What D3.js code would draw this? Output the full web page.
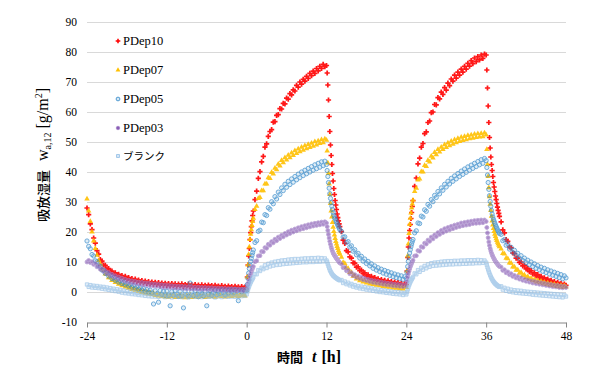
<!DOCTYPE html>
<html>
<head>
<meta charset="utf-8">
<script src="https://cdn.jsdelivr.net/npm/d3@7"></script>
<style>
    html, body { margin: 0; padding: 0; background: #fff; }
    svg { display: block; }
</style>
</head>
<body>
<svg id="chart"></svg>
<script>
'use strict';

// sampling times [h]
const hours = [
    -24, -23.75, -23.5, -23.25, -23, -22.75, -22.5, -22.25,
    -22, -21.75, -21.5, -21.25, -21, -20.75, -20.5, -20.25,
    -20, -19.75, -19.5, -19.25, -19, -18.75, -18.5, -18.25,
    -18, -17.75, -17.5, -17.25, -17, -16.75, -16.5, -16.25,
    -16, -15.75, -15.5, -15.25, -15, -14.75, -14.5, -14.25,
    -14, -13.75, -13.5, -13.25, -13, -12.75, -12.5, -12.25,
    -12, -11.75, -11.5, -11.25, -11, -10.75, -10.5, -10.25,
    -10, -9.75, -9.5, -9.25, -9, -8.75, -8.5, -8.25,
    -8, -7.75, -7.5, -7.25, -7, -6.75, -6.5, -6.25,
    -6, -5.75, -5.5, -5.25, -5, -4.75, -4.5, -4.25,
    -4, -3.75, -3.5, -3.25, -3, -2.75, -2.5, -2.25,
    -2, -1.75, -1.5, -1.25, -1, -0.75, -0.5, -0.25,
    0, 0.1, 0.2, 0.3, 0.4, 0.5, 0.6, 0.7, 0.8, 0.9,
    1, 1.25, 1.5, 1.75, 2, 2.25, 2.5, 2.75,
    3, 3.25, 3.5, 3.75, 4, 4.25, 4.5, 4.75,
    5, 5.25, 5.5, 5.75, 6, 6.25, 6.5, 6.75,
    7, 7.25, 7.5, 7.75, 8, 8.25, 8.5, 8.75,
    9, 9.25, 9.5, 9.75, 10, 10.25, 10.5, 10.75,
    11, 11.25, 11.5, 11.75,
    12, 12.1, 12.2, 12.3, 12.4, 12.5, 12.6, 12.7, 12.8, 12.9,
    13, 13.1, 13.2, 13.3, 13.4, 13.5, 13.6, 13.7, 13.8, 13.9,
    14, 14.25, 14.5, 14.75, 15, 15.25, 15.5, 15.75,
    16, 16.25, 16.5, 16.75, 17, 17.25, 17.5, 17.75,
    18, 18.25, 18.5, 18.75, 19, 19.25, 19.5, 19.75,
    20, 20.25, 20.5, 20.75, 21, 21.25, 21.5, 21.75,
    22, 22.25, 22.5, 22.75, 23, 23.25, 23.5, 23.75,
    24, 24.1, 24.2, 24.3, 24.4, 24.5, 24.6, 24.7, 24.8, 24.9,
    25, 25.25, 25.5, 25.75, 26, 26.25, 26.5, 26.75,
    27, 27.25, 27.5, 27.75, 28, 28.25, 28.5, 28.75,
    29, 29.25, 29.5, 29.75, 30, 30.25, 30.5, 30.75,
    31, 31.25, 31.5, 31.75, 32, 32.25, 32.5, 32.75,
    33, 33.25, 33.5, 33.75, 34, 34.25, 34.5, 34.75,
    35, 35.25, 35.5, 35.75,
    36, 36.1, 36.2, 36.3, 36.4, 36.5, 36.6, 36.7, 36.8, 36.9,
    37, 37.1, 37.2, 37.3, 37.4, 37.5, 37.6, 37.7, 37.8, 37.9,
    38, 38.25, 38.5, 38.75, 39, 39.25, 39.5, 39.75,
    40, 40.25, 40.5, 40.75, 41, 41.25, 41.5, 41.75,
    42, 42.25, 42.5, 42.75, 43, 43.25, 43.5, 43.75,
    44, 44.25, 44.5, 44.75, 45, 45.25, 45.5, 45.75,
    46, 46.25, 46.5, 46.75, 47, 47.25, 47.5, 47.75,
    48
];

// w_a,12 [g/m2], one value per entry of hours
const pdep10 = [
    28, 25.8, 22.7, 20.8, 18, 16.3, 13.8, 12.6,
    10.8, 10.3, 9, 8.9, 7.7, 7.8, 6.8, 7,
    6.1, 6.4, 5.6, 5.9, 5.1, 5.5, 4.7, 5.2,
    4.3, 4.8, 4, 4.5, 3.7, 4.3, 3.5, 4,
    3.3, 3.8, 3.1, 3.6, 2.9, 3.5, 2.8, 3.3,
    2.6, 3.2, 2.5, 3.1, 2.4, 3, 2.3, 2.9,
    2.2, 2.8, 2.1, 2.8, 2.2, 2.7, 2, 2.6,
    2.1, 2.7, 1.9, 2.5, 2, 2.6, 1.8, 2.4,
    1.9, 2.5, 1.7, 2.3, 1.8, 2.4, 1.7, 2.2,
    1.6, 2.3, 1.7, 2.1, 1.5, 2.2, 1.6, 2,
    1.4, 2.1, 1.5, 1.9, 1.3, 2, 1.4, 1.8,
    1.2, 1.9, 1.3, 1.7, 1.2, 1.8, 1.3, 1.6,
    1, 5, 9, 12, 14.5, 17.5, 19.8, 21.8, 23.7, 25.5,
    27, 30.8, 33.6, 37.9, 40.1, 43.4, 45.2, 48.3,
    49.4, 51.9, 53.5, 54.1, 56.6, 56.8, 58.9, 59.1,
    61.1, 61, 62.9, 62.7, 64.6, 64.3, 66.1, 65.7,
    67.4, 67, 68.9, 68.3, 70, 69.3, 70.9, 70.3,
    71.9, 71.2, 72.9, 72.1, 73.6, 72.9, 74.5, 73.7,
    75.2, 74.5, 75.9, 75.1,
    75.5, 73, 69, 64, 58.5, 53.5, 49, 45.5, 42.5, 39.5,
    37, 34.5, 32.5, 30.5, 29, 27.5, 26, 24.8, 23.7, 22.7,
    21.8, 20.1, 17.3, 16.2, 13.8, 13.4, 11.7, 11.3,
    9.7, 9.6, 8.3, 8.4, 7.1, 7.3, 6.1, 6.4,
    5.3, 5.7, 4.7, 5.2, 4.3, 4.8, 3.9, 4.4,
    3.6, 4.1, 3.3, 3.9, 3.1, 3.7, 2.9, 3.5,
    2.7, 3.3, 2.5, 3.1, 2.3, 2.9, 2.1, 2.7,
    2.5, 7, 11.5, 15, 18, 20.5, 22.5, 24.5, 26.5, 28.5,
    30.5, 35.2, 38, 42.7, 44.6, 48.3, 49.5, 52.8,
    53.4, 56.5, 57, 59.8, 60, 62.5, 62.4, 64.8,
    64.4, 66.6, 65.9, 68.1, 67.3, 69.6, 68.8, 71,
    70.3, 72.3, 71.3, 73.3, 72.3, 74.3, 73.3, 75.2,
    74.3, 76.2, 75.3, 77.1, 76.1, 78, 76.8, 78.5,
    77.4, 79, 77.9, 79.3,
    79, 74, 68, 62, 56.5, 51.5, 48, 45, 42.5, 40.5,
    38.5, 36.5, 35, 33.5, 32, 30.8, 29.5, 28.3, 27.2, 26.2,
    25.2, 23.4, 20.7, 19.7, 17.5, 16.9, 15, 14.7,
    13, 12.8, 11.3, 11.3, 9.9, 10, 8.7, 8.9,
    7.7, 7.9, 6.8, 7.1, 6, 6.4, 5.4, 5.8,
    4.8, 5.2, 4.3, 4.7, 3.8, 4.3, 3.4, 3.9,
    3, 3.5, 2.7, 3.2, 2.4, 2.9, 2.1, 2.6,
    2.2
];
const pdep07 = [
    31, 27, 23.5, 20, 17, 14.5, 12.3, 10.5,
    9.3, 7.7, 7.2, 6, 5.9, 4.8, 4.8, 3.9,
    4, 3.2, 3.4, 2.6, 2.8, 2.1, 2.4, 1.7,
    2, 1.3, 1.6, 0.9, 1.2, 0.6, 0.9, 0.3,
    0.6, -0.1, 0.3, -0.4, 0, -0.6, -0.2, -0.8,
    -0.4, -1.1, -0.7, -1.3, -0.8, -1.5, -1, -1.6,
    -1, -1.7, -1.1, -1.5, -0.9, -1.8, -1.2, -1.6,
    -1, -1.7, -1.3, -1.9, -1.1, -1.6, -1, -1.8,
    -1.2, -1.6, -0.9, -1.7, -1.2, -1.5, -1, -1.8,
    -1.1, -1.6, -0.9, -1.5, -1.2, -1.7, -1, -1.4,
    -0.9, -1.5, -1.1, -1.6, -0.8, -1.4, -1, -1.5,
    -0.8, -1.3, -0.9, -1.5, -0.7, -1.2, -0.9, -1.3,
    0.5, 5, 9, 12.5, 15, 17.5, 19.3, 20.8, 22.2, 23.5,
    24.6, 27.5, 28.6, 31.2, 31.5, 33.8, 33.8, 36,
    36, 38.1, 37.9, 39.9, 39.4, 41.3, 40.8, 42.6,
    42, 43.9, 43.1, 44.8, 44, 45.6, 44.8, 46.4,
    45.5, 47.1, 46.2, 47.7, 46.8, 48.3, 47.3, 48.8,
    47.8, 49.2, 48.2, 49.6, 48.6, 50.1, 49, 50.4,
    49.5, 50.8, 49.8, 51,
    50.6, 47, 43, 39.5, 36, 32.5, 29.5, 27, 25, 23.2,
    21.6, 20.2, 19, 17.9, 16.9, 16, 15.2, 14.5, 13.8, 13.2,
    12.6, 11.6, 9.9, 9.5, 8.1, 7.9, 6.5, 6.5,
    5.3, 5.4, 4.4, 4.7, 3.8, 4.2, 3.4, 3.8,
    3, 3.5, 2.7, 3.2, 2.5, 3, 2.3, 2.8,
    2.1, 2.6, 1.9, 2.4, 1.7, 2.3, 1.6, 2.1,
    1.4, 2, 1.3, 1.8, 1.1, 1.7, 1, 1.5,
    1.5, 7, 12, 16, 19.5, 22.5, 24.6, 26.4, 28, 29.4,
    30.6, 33.5, 34.6, 37.4, 37.7, 40.1, 40, 42.2,
    41.9, 43.9, 43.4, 45.3, 44.7, 46.5, 45.8, 47.5,
    46.7, 48.3, 47.5, 49.1, 48.2, 49.7, 48.8, 50.3,
    49.3, 50.8, 49.8, 51.2, 50.2, 51.6, 50.5, 51.9,
    50.8, 52.2, 51.1, 52.4, 51.3, 52.6, 51.5, 52.8,
    51.7, 52.9, 51.8, 53,
    52.4, 47.5, 42.5, 38.5, 34.8, 31.8, 29.3, 27.2, 25.3, 23.7,
    22.4, 21.2, 20.2, 19.3, 18.5, 17.8, 17.2, 16.6, 16.1, 15.6,
    15.1, 14.4, 12.9, 12.7, 11.3, 11.1, 9.7, 9.6,
    8.4, 8.4, 7.3, 7.4, 6.3, 6.5, 5.5, 5.7,
    4.8, 5.1, 4.3, 4.6, 3.8, 4.2, 3.4, 3.9,
    3.1, 3.6, 2.8, 3.3, 2.5, 3, 2.3, 2.8,
    2.1, 2.6, 1.9, 2.4, 1.7, 2.2, 1.5, 2.1,
    1.7
];
const pdep05 = [
    17, 15.2, 14.4, 12.5, 12, 10.4, 10.1, 8.7,
    8.6, 7.3, 7.3, 6.2, 6.3, 5.3, 5.5, 4.5,
    4.8, 3.9, 4.2, 3.3, 3.7, 2.8, 3.2, 2.4,
    2.8, 2, 2.4, 1.6, 2.1, 1.3, 1.7, 0.9,
    1.4, 0.6, 1.1, 0.2, 0.8, -0.1, 0.6, -0.3,
    -4, 0.4, -0.6, -3.4, 0.5, -0.8, 0.2, -1.1,
    0.3, -1.2, -4.6, 0.1, -1, 0.4, -0.7, -1.5,
    0.2, -1.3, -5.3, 0.3, -0.8, -1.4, 3, 0.1,
    -1.2, 0.4, -0.9, -1.6, 0.2, -0.6, -1.3, 0.3,
    -4.6, -0.8, 0.5, -1.1, -0.3, 0.6, -0.9, 0.2,
    -0.5, 0.7, -0.2, -1, 0.5, -0.4, 0.8, 0.1,
    -0.3, 0.9, 0.2, -2.9, 0.6, 0.1, 0.8, 0.3,
    0.5, 2.5, 4.5, 6.3, 7.8, 9, 10.2, 11.2, 12.2, 13.1,
    14, 16.5, 17.1, 20.2, 20.6, 23.3, 23.1, 25.8,
    25.5, 28.1, 27.6, 30.1, 29.4, 31.8, 31, 33.3,
    32.5, 34.7, 33.8, 35.9, 34.9, 36.9, 35.8, 37.7,
    36.6, 38.5, 37.4, 39.3, 38.1, 40, 38.8, 40.6,
    39.4, 41.2, 40, 41.8, 40.6, 42.4, 41.1, 42.9,
    41.6, 43.4, 42.1, 43.6,
    42.5, 40.5, 38.5, 36.5, 34.6, 32.8, 31.2, 29.8, 28.6, 27.5,
    26.5, 25.6, 24.8, 24.5, 23.9, 23.3, 22.8, 22.3, 21.8, 21.3,
    20.8, 20.2, 18.3, 18.4, 16.5, 16.8, 15, 15.4,
    13.6, 14.1, 12.4, 12.9, 11.3, 11.9, 10.3, 11,
    9.5, 10.2, 8.7, 9.4, 7.9, 8.7, 7.3, 8.1,
    6.8, 7.6, 6.3, 7.2, 5.9, 6.8, 5.5, 6.4,
    5.1, 6, 4.8, 5.7, 4.5, 5.4, 4.2, 5.1,
    4.5, 6.5, 8.5, 10.2, 11.7, 13, 14.1, 15.1, 16, 16.8,
    17.5, 19.7, 20.4, 23, 22.8, 25.3, 25, 27.4,
    26.9, 29.2, 28.6, 30.8, 30.1, 32.2, 31.5, 33.5,
    32.7, 34.7, 33.9, 35.9, 35, 36.9, 36, 37.9,
    36.9, 38.7, 37.7, 39.5, 38.5, 40.3, 39.2, 41,
    39.9, 41.7, 40.6, 42.3, 41.2, 42.9, 41.8, 43.5,
    42.4, 44.1, 42.9, 44.5,
    43.8, 41.5, 39, 36.5, 34.2, 32.1, 30.2, 28.6, 27.2, 26,
    25, 24.2, 23.5, 22.9, 22.3, 21.8, 21.3, 20.8, 20.3, 19.9,
    19.5, 19.2, 17.1, 17.5, 15.6, 16.1, 14.3, 14.9,
    13.2, 13.9, 12.2, 12.9, 11.3, 12.1, 10.5, 11.3,
    9.8, 10.6, 9.1, 10, 8.5, 9.4, 7.9, 8.8,
    7.4, 8.3, 6.9, 7.9, 6.5, 7.4, 6, 7,
    5.6, 6.6, 5.2, 6.2, 4.8, 5.8, 4.4, 5.4,
    4.7
];
const pdep03 = [
    10, 10.5, 9.8, 10.1, 9.2, 9.4, 8.4, 8.6,
    7.6, 7.8, 6.9, 7.1, 6.2, 6.5, 5.6, 5.9,
    5.1, 5.4, 4.6, 5, 4.2, 4.6, 3.8, 4.2,
    3.5, 3.9, 3.2, 3.7, 3, 3.5, 2.8, 3.3,
    2.6, 3.2, 2.4, 3, 2.3, 2.9, 2.1, 2.7,
    2, 2.6, 1.9, 2.5, 1.8, 2.4, 1.6, 2.3,
    1.6, 2.2, 1.5, 2.1, 1.4, 2, 1.3, 1.9,
    1.3, 1.9, 1.2, 1.8, 1.1, 1.7, 1.1, 1.7,
    1.1, 1.6, 1, 1.6, 0.9, 1.5, 0.9, 1.5,
    0.9, 1.4, 0.8, 1.4, 0.7, 1.3, 0.7, 1.3,
    0.7, 1.2, 0.6, 1.2, 0.6, 1.1, 0.5, 1.1,
    0.5, 1, 0.4, 1, 0.4, 0.9, 0.4, 0.9,
    0.7, 1.5, 2.4, 3.2, 4, 5.2, 6, 6.7, 7.4, 8,
    8.5, 10.1, 10.4, 12, 12.1, 13.5, 13.4, 14.8,
    14.6, 15.9, 15.6, 16.8, 16.4, 17.6, 17.1, 18.3,
    17.8, 18.9, 18.4, 19.5, 19, 20.1, 19.5, 20.6,
    20, 21, 20.4, 21.4, 20.8, 21.8, 21.1, 22.1,
    21.4, 22.4, 21.7, 22.7, 22, 22.9, 22.2, 23.1,
    22.4, 23.3, 22.6, 23.4,
    23, 21.8, 20.5, 19.2, 18, 16.9, 15.9, 15, 14.3, 13.6,
    13, 12.6, 12.2, 11.9, 11.5, 11.2, 10.9, 10.6, 10.3, 10,
    9.7, 9.3, 8.1, 8.2, 7.1, 7.2, 6.1, 6.4,
    5.5, 5.8, 4.9, 5.3, 4.5, 4.9, 4.1, 4.5,
    3.8, 4.2, 3.5, 3.9, 3.2, 3.7, 3, 3.5,
    2.8, 3.3, 2.6, 3.1, 2.4, 2.9, 2.3, 2.8,
    2.1, 2.6, 2, 2.5, 1.9, 2.4, 1.8, 2.3,
    2, 3.5, 5, 6, 6.9, 7.7, 8.4, 9, 9.6, 10.1,
    10.6, 12, 12.1, 13.8, 13.6, 15.1, 14.9, 16.3,
    16, 17.3, 16.9, 18.3, 17.7, 19, 18.5, 19.8,
    19.2, 20.5, 19.8, 21.1, 20.3, 21.5, 20.7, 21.9,
    21.1, 22.3, 21.5, 22.6, 21.8, 23, 22.1, 23.2,
    22.3, 23.4, 22.5, 23.6, 22.8, 23.8, 22.9, 23.9,
    23, 24, 23.1, 24,
    23.5, 21.5, 19.7, 18.1, 16.7, 15.5, 14.5, 13.7, 13, 12.4,
    11.9, 11.4, 11, 10.6, 10.2, 9.9, 9.6, 9.3, 9, 8.8,
    8.5, 8.3, 7.2, 7.4, 6.4, 6.7, 5.8, 6.1,
    5.2, 5.5, 4.7, 5.1, 4.3, 4.7, 3.9, 4.3,
    3.6, 4, 3.3, 3.7, 3, 3.5, 2.8, 3.3,
    2.6, 3.1, 2.4, 2.9, 2.2, 2.7, 2, 2.5,
    1.8, 2.3, 1.7, 2.2, 1.5, 2, 1.4, 1.9,
    1.5
];
const blank = [
    2.5, 1.7, 2.3, 1.5, 2.1, 1.4, 2, 1.3,
    1.8, 1.1, 1.7, 0.9, 1.5, 0.7, 1.3, 0.5,
    1.1, 0.3, 0.9, 0.1, 0.7, -0.2, 0.5, -0.4,
    0.3, -0.5, 0.1, -0.7, -0.1, -0.8, -0.3, -1,
    -0.4, -1.1, -0.5, -1.3, -0.6, -1.4, -0.7, -1.5,
    -0.8, -1.5, -0.7, -1.6, -0.9, -1.4, -0.8, -1.7,
    -0.9, -1.5, -0.7, -1.8, -1, -1.4, -0.8, -1.6,
    -0.9, -1.7, -1.1, -1.5, -0.8, -1.8, -1, -1.4,
    -0.7, -1.6, -1.1, -1.5, -0.9, -1.7, -1, -1.4,
    -0.8, -1.6, -1.2, -1.5, -0.9, -1.8, -1.1, -1.5,
    -0.8, -1.7, -1.1, -1.4, -0.9, -1.6, -1, -1.5,
    -0.8, -1.6, -1.1, -1.5, -0.7, -1.4, -1, -1.3,
    -0.8, 0, 0.8, 1.5, 2.1, 2.7, 3.2, 3.7, 4.1, 4.5,
    4.9, 6, 5.9, 7.3, 7, 8.1, 7.6, 8.9,
    8, 9.4, 8.5, 9.8, 8.8, 10.1, 9, 10.3,
    9.1, 10.5, 9.3, 10.6, 9.4, 10.8, 9.5, 10.9,
    9.6, 11, 9.7, 11, 9.8, 11.1, 9.9, 11.2,
    9.9, 11.2, 10, 11.3, 10, 11.3, 10.1, 11.4,
    10.1, 11.3, 10.2, 11.2,
    10.5, 10, 9.3, 8.6, 8, 7.4, 6.9, 6.5, 6.1, 5.8,
    5.5, 5.3, 5.1, 4.9, 4.7, 4.6, 4.4, 4.3, 4.1, 4,
    3.9, 4, 3, 3.5, 2.6, 3.1, 2.2, 2.7,
    1.8, 2.3, 1.5, 2, 1.2, 1.8, 1, 1.6,
    0.8, 1.4, 0.6, 1.2, 0.4, 1, 0.2, 0.8,
    0, 0.6, -0.1, 0.5, -0.3, 0.3, -0.4, 0.2,
    -0.6, 0, -0.7, 0, -0.8, -0.2, -1, -0.3,
    -0.8, 0, 0.8, 1.5, 2.2, 2.8, 3.3, 3.8, 4.2, 4.6,
    5, 6.2, 5.9, 7.3, 6.7, 8.1, 7.4, 8.7,
    7.9, 9.2, 8.4, 9.6, 8.7, 9.8, 8.8, 9.9,
    8.9, 10.1, 9, 10.2, 9.1, 10.3, 9.2, 10.3,
    9.2, 10.4, 9.3, 10.4, 9.3, 10.5, 9.4, 10.5,
    9.4, 10.6, 9.5, 10.6, 9.5, 10.6, 9.6, 10.7,
    9.6, 10.6, 9.7, 10.5,
    9.8, 9, 8.2, 7.5, 6.8, 6.2, 5.6, 5.1, 4.6, 4.2,
    3.8, 3.5, 3.2, 2.9, 2.7, 2.5, 2.3, 2.1, 2, 1.8,
    1.7, 1.9, 0.8, 1.4, 0.4, 1.1, 0.1, 0.8,
    -0.1, 0.6, -0.3, 0.5, -0.4, 0.4, -0.5, 0.2,
    -0.6, 0.1, -0.7, 0, -0.9, -0.1, -1, -0.2,
    -1.1, -0.3, -1.2, -0.4, -1.3, -0.5, -1.4, -0.6,
    -1.5, -0.7, -1.6, -0.8, -1.7, -0.9, -1.8, -1,
    -1.5
];

const seriesNames = ['PDep10', 'PDep07', 'PDep05', 'PDep03', 'ブランク'];
const xTicks = [-24, -12, 0, 12, 24, 36, 48];
const yTicks = [-10, 0, 10, 20, 30, 40, 50, 60, 70, 80, 90];

const width = 607;
const height = 381;
const serif = "'Liberation Serif', 'Times New Roman'";
const cjk = "'Noto Sans CJK JP', 'Noto Sans CJK SC'";

const styles = [
    {symbol: d3.symbolCross, size: 15, fill: '#FF0000', stroke: 'none', opacity: 0.9},
    {symbol: d3.symbolTriangle, size: 13, fill: '#FFC000', stroke: 'none', opacity: 0.9},
    {symbol: d3.symbolCircle, size: 14, fill: 'rgba(46,134,200,0.2)', stroke: '#2E86C8', opacity: 0.75},
    {symbol: d3.symbolCircle, size: 12, fill: '#8A5DB5', stroke: '#A383C8', opacity: 0.7},
    {symbol: d3.symbolSquare, size: 11, fill: 'rgba(143,188,228,0.35)', stroke: '#8FBCE4', opacity: 0.7}
];

const series = [pdep10, pdep07, pdep05, pdep03, blank].map((values, i) => ({
    name: seriesNames[i],
    style: styles[i],
    points: values.slice(0, hours.length).map((w, j) => ({t: hours[j], w}))
}));

const x = d3.scaleLinear().domain([-24, 48]).range([87, 566]);
const y = d3.scaleLinear().domain([-10, 90]).range([322, 22]);

const svg = d3.select('#chart')
    .attr('width', width)
    .attr('height', height);

// horizontal gridlines
svg.append('g')
    .selectAll('line')
    .data(yTicks.filter(v => v > -10))
    .join('line')
    .attr('x1', x(-24))
    .attr('x2', x(48))
    .attr('y1', d => y(d) + 0.5)
    .attr('y2', d => y(d) + 0.5)
    .attr('stroke', '#D9D9D9')
    .attr('stroke-width', 1);

// x axis sits at -10; plain hyphen for negatives like the original
const xAxis = svg.append('g')
    .attr('transform', `translate(0,${y(-10) + 0.5})`)
    .call(d3.axisBottom(x).tickValues(xTicks).tickFormat(d => String(d))
        .tickSize(5).tickSizeOuter(0).tickPadding(4));
xAxis.select('.domain').attr('stroke', '#868686');
xAxis.selectAll('.tick line').attr('stroke', '#868686');
xAxis.selectAll('text')
    .style('font-family', serif)
    .style('font-size', '11.5px')
    .attr('fill', '#000');

// y labels only, no axis line
const yAxis = svg.append('g')
    .attr('transform', `translate(${x(-24)},0)`)
    .call(d3.axisLeft(y).tickValues(yTicks).tickFormat(d => String(d))
        .tickSize(0).tickPadding(10));
yAxis.select('.domain').remove();
yAxis.selectAll('text')
    .style('font-family', serif)
    .style('font-size', '11.5px')
    .attr('fill', '#000');

// points
series.forEach(s => {
    svg.append('g')
        .attr('opacity', s.style.opacity)
        .selectAll('path')
        .data(s.points)
        .join('path')
        .attr('transform', d => `translate(${x(d.t)},${y(d.w)})`)
        .attr('d', d3.symbol().type(s.style.symbol).size(s.style.size))
        .attr('fill', s.style.fill)
        .attr('stroke', s.style.stroke)
        .attr('stroke-width', 0.9);
});

// legend
const legendY = [41, 70, 99, 128, 156];
const legend = svg.append('g')
    .selectAll('g')
    .data(series)
    .join('g')
    .attr('transform', (d, i) => `translate(118,${legendY[i]})`);

legend.append('path')
    .attr('d', d => d3.symbol().type(d.style.symbol).size(d.style.size * 0.8)())
    .attr('fill', d => d.style.fill)
    .attr('stroke', d => d.style.stroke)
    .attr('stroke-width', 0.8);

legend.append('text')
    .attr('x', 5)
    .attr('y', 4)
    .style('font-family', (d, i) => i === 4 ? cjk : serif)
    .style('font-size', (d, i) => i === 4 ? '10.5px' : '12.5px')
    .attr('fill', '#000')
    .text(d => d.name);

// y title
const yTitle = svg.append('text')
    .attr('transform', 'translate(48,155) rotate(-90)')
    .attr('text-anchor', 'middle')
    .attr('fill', '#000');
yTitle.append('tspan')
    .style('font-family', cjk)
    .style('font-size', '13px')
    .style('font-weight', 500)
    .text('吸放湿量');
yTitle.append('tspan')
    .style('font-family', serif)
    .style('font-size', '16px')
    .attr('dx', 9)
    .text('w');
yTitle.append('tspan')
    .style('font-family', serif)
    .style('font-size', '10px')
    .attr('dy', 3)
    .text('a,12');
yTitle.append('tspan')
    .style('font-family', serif)
    .style('font-size', '16px')
    .attr('dy', -3)
    .attr('dx', 4)
    .text('[g/m');
yTitle.append('tspan')
    .style('font-family', serif)
    .style('font-size', '10px')
    .attr('dy', -6)
    .text('2');
yTitle.append('tspan')
    .style('font-family', serif)
    .style('font-size', '16px')
    .attr('dy', 6)
    .text(']');

// x title
const xTitle = svg.append('text')
    .attr('x', 277)
    .attr('y', 362)
    .attr('fill', '#000')
    .style('font-weight', 'bold');
xTitle.append('tspan')
    .style('font-family', cjk)
    .style('font-size', '13px')
    .text('時間');
xTitle.append('tspan')
    .style('font-family', serif)
    .style('font-size', '16px')
    .style('font-style', 'italic')
    .attr('dx', 9)
    .text('t');
xTitle.append('tspan')
    .style('font-family', serif)
    .style('font-size', '16px')
    .attr('dx', 5)
    .text('[h]');
</script>
</body>
</html>
